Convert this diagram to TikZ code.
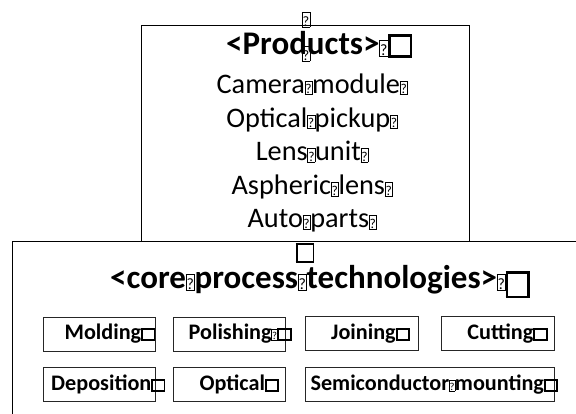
\documentclass[tikz,border=0pt]{standalone}
\usepackage{fontspec}
\setmainfont{Carlito}
\usepackage{graphicx}
% missing-glyph boxes as printed in the reference
\newcommand{\qbx}{\makebox[0.26em]{\fboxsep=0.4pt\fboxrule=0.45pt\raisebox{-0.02em}{\fbox{\rule{0pt}{0.44em}\makebox[0.22em]{\scalebox{0.48}{\normalfont\mdseries ?}}}}}}
\newcommand{\ebx}[4]{\raisebox{#4}{\fboxsep=0pt\fboxrule=#3\fbox{\rule{#1}{0pt}\rule{0pt}{#2}}}}
\tikzset{
  bigbox/.style={draw=black, line width=1.4pt, inner sep=0pt, anchor=north west},
  techbox/.style={draw=black!85, line width=0.9pt, inner sep=0pt, anchor=north west, minimum height=34pt},
  head/.style={font=\fontsize{33}{40}\selectfont\bfseries, inner sep=0pt, anchor=base west},
  item/.style={font=\fontsize{28.3}{34}\selectfont, inner sep=0pt, anchor=base},
  tech/.style={font=\fontsize{22.2}{26}\selectfont\bfseries, inner sep=0pt, anchor=base east},
  tofu/.style={inner sep=0pt, font=\fontsize{30}{34}\selectfont}
}
\begin{document}
\begin{tikzpicture}[x=1pt,y=-1pt]
\useasboundingbox (0,0) rectangle (576,414);
\clip (0,0) rectangle (576,414);
% boxes
\node[bigbox, minimum width=620pt, minimum height=220pt] (core) at (12,241) {};
\node[bigbox, minimum width=328pt, minimum height=216pt] (prod) at (141,25) {};
% products
\node[tofu] (t1) at (306,19.5) {\qbx};
\node[head] (ph) at (226,55) {<Products>\qbx\ebx{19pt}{18pt}{2.6pt}{0pt}};
\node[tofu] (t2) at (306,53.5) {\qbx};
\node[item] (i1) at (312,93.3) {Camera\qbx module\qbx};
\node[item] (i2) at (312,127.3) {Optical\qbx pickup\qbx};
\node[item] (i3) at (312,161) {Lens\qbx unit\qbx};
\node[item] (i4) at (312,195) {Aspheric\qbx lens\qbx};
\node[item] (i5) at (312,228) {Auto\qbx parts\qbx};
% core
\node[inner sep=0pt] (t3) at (305,253) {\ebx{15pt}{16pt}{1.8pt}{0pt}};
\node[head] (ch) at (110,288.8) {<core\qbx process\qbx technologies>\qbx\ebx{19pt}{22pt}{2.6pt}{-7pt}};
% technology boxes
\node[techbox, minimum width=112.6pt] (b1) at (42.7,316.7) {};
\node[techbox, minimum width=112.6pt] (b2) at (172.7,316.7) {};
\node[techbox, minimum width=112.4pt] (b3) at (305.3,316.2) {};
\node[techbox, minimum width=113pt] (b4) at (441,316.2) {};
\node[techbox, minimum width=112.6pt] (b5) at (42.7,366.7) {};
\node[techbox, minimum width=112.6pt] (b6) at (172.7,366.7) {};
\node[techbox, minimum width=248.7pt] (b7) at (305.3,366.7) {};
\node[tech] (l1) at (155.5,339.3) {Molding\ebx{10.5pt}{9.5pt}{1.8pt}{0pt}};
\node[tech] (l2) at (291.7,339.3) {Polishing\qbx\ebx{10.5pt}{9.5pt}{1.8pt}{0pt}};
\node[tech] (l3) at (410,339) {Joining\ebx{10.5pt}{9.5pt}{1.8pt}{0pt}};
\node[tech] (l4) at (547.7,339) {Cutting\ebx{10.5pt}{9.5pt}{1.8pt}{0pt}};
\node[tech] (l5) at (165.7,390) {Deposition\ebx{10.5pt}{9.5pt}{1.8pt}{0pt}};
\node[tech] (l6) at (279.3,390) {Optical\ebx{10.5pt}{9.5pt}{1.8pt}{0pt}};
\node[tech] (l7) at (558.3,390) {Semiconductor\qbx mounting\ebx{10.5pt}{9.5pt}{1.8pt}{0pt}};
\end{tikzpicture}
\end{document}
